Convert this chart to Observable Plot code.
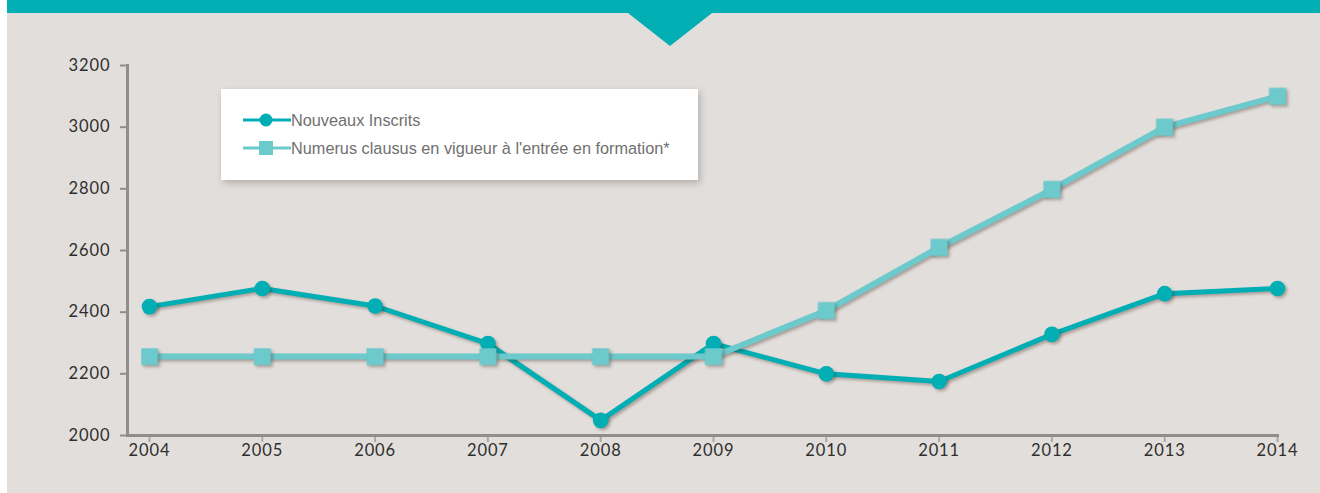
<!DOCTYPE html>
<html>
<head>
<meta charset="utf-8">
<script src="https://cdn.jsdelivr.net/npm/d3@7"></script>
<script src="https://cdn.jsdelivr.net/npm/@observablehq/plot@0.6"></script>
<style>
  html, body { margin: 0; padding: 0; background: #ffffff; }
  #wrap { position: relative; width: 1320px; height: 493px; overflow: hidden; }
  #bg { position: absolute; left: 7px; top: 0; right: 0; bottom: 0; background: #e2dedb; }
  #bar { position: absolute; left: 7px; top: 0; right: 0; height: 13px; background: #00aeb3; }
  #tri { position: absolute; left: 628px; top: 13px; width: 0; height: 0;
         border-left: 42px solid transparent; border-right: 42px solid transparent;
         border-top: 33px solid #00aeb3; }
  #chart { position: absolute; left: 0; top: 0; }
  #legend { position: absolute; left: 221px; top: 89px; width: 477px; height: 91px;
            background: #ffffff; box-shadow: 2px 3px 7px rgba(0,0,0,0.22); }
  .item { position: absolute; left: 22px; height: 20px; display: flex; align-items: center;
          font-family: "Liberation Sans", Arial, sans-serif; font-size: 16.3px; color: #707070; }
  .item svg { display: block; }
</style>
</head>
<body>
<div id="wrap">
  <div id="bg"></div>
  <div id="bar"></div>
  <div id="tri"></div>
  <div id="chart"></div>
  <div id="legend"></div>
</div>
<script>
const years = [2004, 2005, 2006, 2007, 2008, 2009, 2010, 2011, 2012, 2013, 2014];
const inscrits = [2418, 2477, 2420, 2298, 2049, 2298, 2200, 2175, 2328, 2460, 2477];
const numerus = [2256, 2256, 2256, 2256, 2256, 2256, 2405, 2610, 2798, 3000, 3100];
const seriesNames = ["Nouveaux Inscrits", "Numerus clausus en vigueur à l'entrée en formation*"];
const seriesColors = ["#00aeb3", "#6cc9cc"];
const seriesSymbols = ["circle", "square"];
const yTicks = [2000, 2200, 2400, 2600, 2800, 3000, 3200];

const dataA = years.map((y, i) => ({year: y, value: inscrits[i]}));
const dataB = years.map((y, i) => ({year: y, value: numerus[i]}));

const plot = Plot.plot({
  width: 1320,
  height: 493,
  marginLeft: 127,
  marginRight: 43,
  marginTop: 65,
  marginBottom: 58,
  style: {background: "transparent", fontFamily: "Lato, sans-serif", fontSize: "16px", color: "#333"},
  x: {domain: [2004, 2014], insetLeft: 22},
  y: {domain: [2000, 3200]},
  marks: [
    Plot.axisY({ticks: yTicks, tickSize: 7, tickPadding: 10, tickFormat: d => String(d),
                stroke: "#8e8e8e", strokeWidth: 2, fill: "#2e2e2e", label: null, fontSize: 16.5}),
    Plot.axisX({ticks: years, tickSize: 7, tickPadding: 2, tickFormat: d => String(d),
                stroke: "#a9a9a9", strokeWidth: 2, fill: "#2e2e2e", label: null, fontSize: 16.5}),
    Plot.frame({anchor: "left", stroke: "#8e8e8e", strokeWidth: 3}),
    Plot.frame({anchor: "bottom", stroke: "#8e8e8e", strokeWidth: 3}),
    Plot.line(dataA, {x: "year", y: "value", stroke: seriesColors[0], strokeWidth: 5, strokeLinejoin: "round"}),
    Plot.dot(dataA, {x: "year", y: "value", fill: seriesColors[0], r: 7.8, symbol: seriesSymbols[0]}),
    Plot.line(dataB, {x: "year", y: "value", stroke: seriesColors[1], strokeWidth: 6, strokeLinejoin: "miter"}),
    Plot.dot(dataB, {x: "year", y: "value", fill: seriesColors[1], r: 9.6, symbol: seriesSymbols[1]})
  ]
});
document.getElementById("chart").appendChild(plot);
d3.select(plot).selectAll('g[aria-label="line"], g[aria-label="dot"]')
  .style("filter", "drop-shadow(2px 2px 1.5px rgba(60,40,30,0.35))");
d3.select(plot).selectAll('g[aria-label="y-axis tick label"] text, g[aria-label="x-axis tick label"] text')
  .style("letter-spacing", "0.9px");

// legend built from the series arrays
const legend = d3.select("#legend");
seriesNames.forEach((name, i) => {
  const item = legend.append("div").attr("class", "item").style("top", (21 + i * 28) + "px");
  const s = item.append("svg").attr("width", 48).attr("height", 20);
  s.append("line").attr("x1", 0).attr("x2", 48).attr("y1", 10).attr("y2", 10)
    .attr("stroke", seriesColors[i]).attr("stroke-width", 3);
  if (seriesSymbols[i] === "circle") {
    s.append("circle").attr("cx", 23).attr("cy", 10).attr("r", 6.5).attr("fill", seriesColors[i]);
  } else {
    s.append("rect").attr("x", 16).attr("y", 3).attr("width", 14).attr("height", 14).attr("fill", seriesColors[i]);
  }
  item.append("span").text(name);
});
</script>
</body>
</html>
